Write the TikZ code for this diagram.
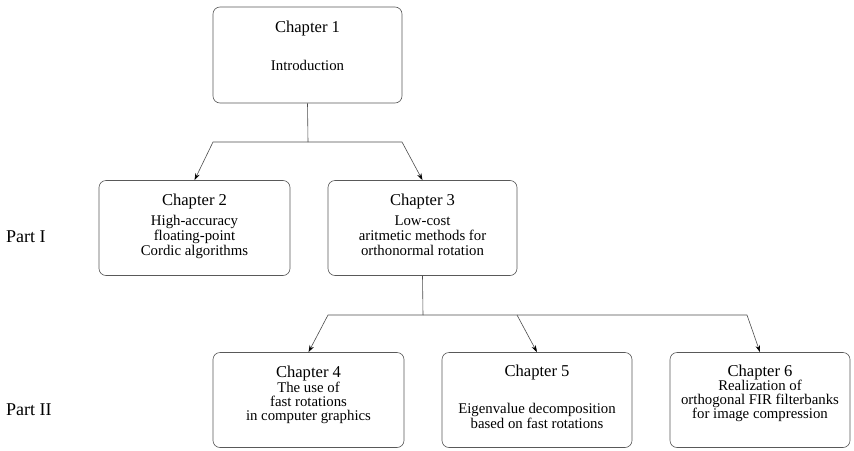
\documentclass[tikz,border=0pt]{standalone}
\usepackage{fontspec}
\setmainfont{Liberation Serif}
\usetikzlibrary{arrows.meta}
\begin{document}
\begin{tikzpicture}[x=1pt,y=-1pt,
    chapbox/.style={draw=black!65,line width=0.6pt,rounded corners=7pt,minimum height=95pt,inner sep=0pt},
    head/.style={anchor=base,inner sep=0pt,font=\fontsize{16.6}{18}\selectfont},
    body/.style={anchor=base,inner sep=0pt,align=center,font=\fontsize{14.8}{#1}\selectfont},
    body/.default=15,
    partlabel/.style={anchor=base west,inner sep=0pt,font=\fontsize{18}{20}\selectfont},
    link/.style={draw=black!70,line width=0.6pt},
    linkarrow/.style={link,-{Stealth[length=7pt,width=4.5pt,black]}}]
    \useasboundingbox (0,0) rectangle (854,450);
    \node[chapbox,minimum width=189pt,minimum height=96pt] (ch1) at (307.5,55) {};
    \node[chapbox,minimum width=191pt] (ch2) at (194.5,228) {};
    \node[chapbox,minimum width=189pt] (ch3) at (422.5,228) {};
    \node[chapbox,minimum width=191pt] (ch4) at (308.5,400) {};
    \node[chapbox,minimum width=190pt] (ch5) at (537,400) {};
    \node[chapbox,minimum width=180pt] (ch6) at (760,400) {};
    \node[head] (h1) at (307.5,32) {Chapter 1};
    \node[body] (t1) at (307.5,70) {Introduction};
    \node[head] (h2) at (194.5,205) {Chapter 2};
    \node[body] (t2) at (194.5,255) {High-accuracy\\floating-point\\Cordic algorithms};
    \node[head] (h3) at (422.5,205) {Chapter 3};
    \node[body] (t3) at (422.5,255) {Low-cost\\aritmetic methods for\\orthonormal rotation};
    \node[head] (h4) at (308.5,377) {Chapter 4};
    \node[body=14] (t4) at (308.5,420) {The use of\\fast rotations\\in computer graphics};
    \node[head] (h5) at (537,376) {Chapter 5};
    \node[body=13] (t5) at (537,428) {Eigenvalue decomposition\\based on fast rotations};
    \node[head] (h6) at (760,376) {Chapter 6};
    \node[body=14] (t6) at (760,418) {Realization of\\orthogonal FIR filterbanks\\for image compression};
    \node[partlabel] (p1) at (6,242) {Part I};
    \node[partlabel] (p2) at (6,415) {Part II};
    \coordinate (j1) at (308,142);
    \coordinate (b1l) at (213,142);
    \coordinate (b1r) at (402,142);
    \coordinate (j2) at (423,315);
    \coordinate (b2l) at (328,315);
    \coordinate (b2m) at (517,315);
    \coordinate (b2r) at (747,315);
    \draw[link] (ch1.south) -- (j1);
    \draw[linkarrow] (j1) -- (b1l) -- (ch2.north);
    \draw[linkarrow] (j1) -- (b1r) -- (ch3.north);
    \draw[link] (ch3.south) -- (j2);
    \draw[linkarrow] (j2) -- (b2l) -- (ch4.north);
    \draw[linkarrow] (j2) -- (b2m) -- (ch5.north);
    \draw[linkarrow] (b2m) -- (b2r) -- (ch6.north);
\end{tikzpicture}
\end{document}
